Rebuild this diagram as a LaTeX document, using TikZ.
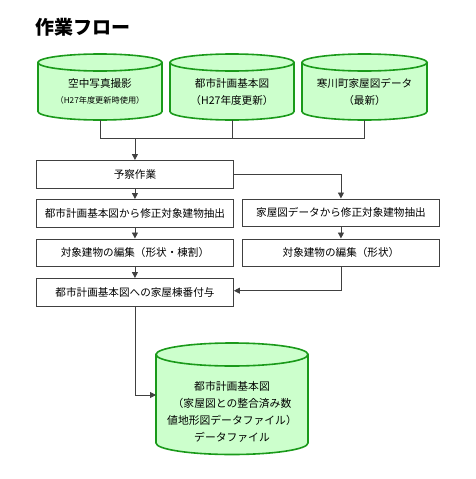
\documentclass[tikz,border=0pt]{standalone}
\usepackage{fontspec}
\setmainfont{Noto Sans CJK JP}
\usetikzlibrary{arrows.meta}
\definecolor{cylfill}{HTML}{CCFFCC}
\definecolor{cylline}{HTML}{1A9A1A}
\definecolor{boxline}{HTML}{404040}
\newcommand\mycyl[6]{% name, cx, ytop, ybot, rx, ry
  \path[cyl] (#2-#5,#3) -- (#2-#5,#4) arc[start angle=180,end angle=360,x radius=#5pt,y radius=#6pt] -- (#2+#5,#3) -- cycle;
  \path[cyl] (#2,#3) ellipse [x radius=#5pt,y radius=#6pt];
  \coordinate (#1bot) at (#2,#4+#6);
  \coordinate (#1west) at (#2-#5,#4-30);
}
\begin{document}
\begin{tikzpicture}[x=1pt,y=-1pt,
  box/.style={draw=boxline,line width=0.9pt,minimum width=197pt,minimum height=27.5pt,inner sep=0pt,font=\fontsize{10.6}{12}\selectfont,anchor=north west},
  conn/.style={draw=boxline,line width=0.9pt},
  arr/.style={conn,-{Triangle[length=6pt,width=6pt]}},
  cyl/.style={draw=cylline,fill=cylfill,line width=1.6pt},
  ctext/.style={font=\fontsize{10.6}{12}\selectfont,inner sep=0pt},
  csmall/.style={font=\fontsize{8.2}{10}\selectfont,inner sep=0pt}]
\useasboundingbox (0,0) rectangle (475,479);
\node[anchor=west,font=\fontsize{19}{22}\selectfont\bfseries,inner sep=0pt] (title) at (35,27) {作業フロー};
% top cylinders
\mycyl{c1}{100}{62.5}{111.5}{62}{8.5}
\mycyl{c2}{232}{62.5}{111.5}{62}{8.5}
\mycyl{c3}{364.5}{62.5}{111.5}{62.5}{8.5}
\node[ctext] (c1a) at (100,83) {空中写真撮影};
\node[csmall] (c1b) at (100,100) {（H27年度更新時使用）};
\node[ctext] (c2a) at (232,83) {都市計画基本図};
\node[ctext] (c2b) at (232,100) {（H27年度更新）};
\node[ctext] (c3a) at (364.5,83) {寒川町家屋図データ};
\node[ctext] (c3b) at (364.5,100) {（最新）};
% boxes
\node[box] (b1) at (36,160) {予察作業};
\node[box] (b2) at (36,199) {都市計画基本図から修正対象建物抽出};
\node[box] (b3) at (36,238.5) {対象建物の編集（形状・棟割）};
\node[box] (b4) at (36,278) {都市計画基本図への家屋棟番付与};
\node[box] (r1) at (242,198.5) {家屋図データから修正対象建物抽出};
\node[box] (r2) at (242,238.5) {対象建物の編集（形状）};
% bottom cylinder
\mycyl{c4}{232}{354.5}{443}{76}{11.5}
\node[font=\fontsize{10.8}{16.8}\selectfont,align=center,inner sep=0pt] (c4t) at (232,412) {都市計画基本図\\（家屋図との整合済み数\\値地形図データファイル）\\データファイル};
\coordinate (c4in) at (156,395);
% connectors
\coordinate (jl) at (100,138);
\coordinate (jr) at (364.5,138);
\draw[conn] (c1bot) -- (jl) -- (jr) -- (c3bot);
\draw[conn] (c2bot) -- (c2bot |- jl);
\coordinate (jm) at (b1.north |- jl);
\draw[arr] (jm) -- (b1.north);
\draw[arr] (b1.east) -| (r1.north);
\draw[arr] (b1.south) -- (b2.north);
\draw[arr] (b2.south) -- (b3.north);
\draw[arr] (b3.south) -- (b4.north);
\draw[arr] (r1.south) -- (r2.north);
\draw[arr] (r2.south) |- ([yshift=1.5pt]b4.east);
\draw[arr] (b4.south) |- (c4in);
\end{tikzpicture}
\end{document}
